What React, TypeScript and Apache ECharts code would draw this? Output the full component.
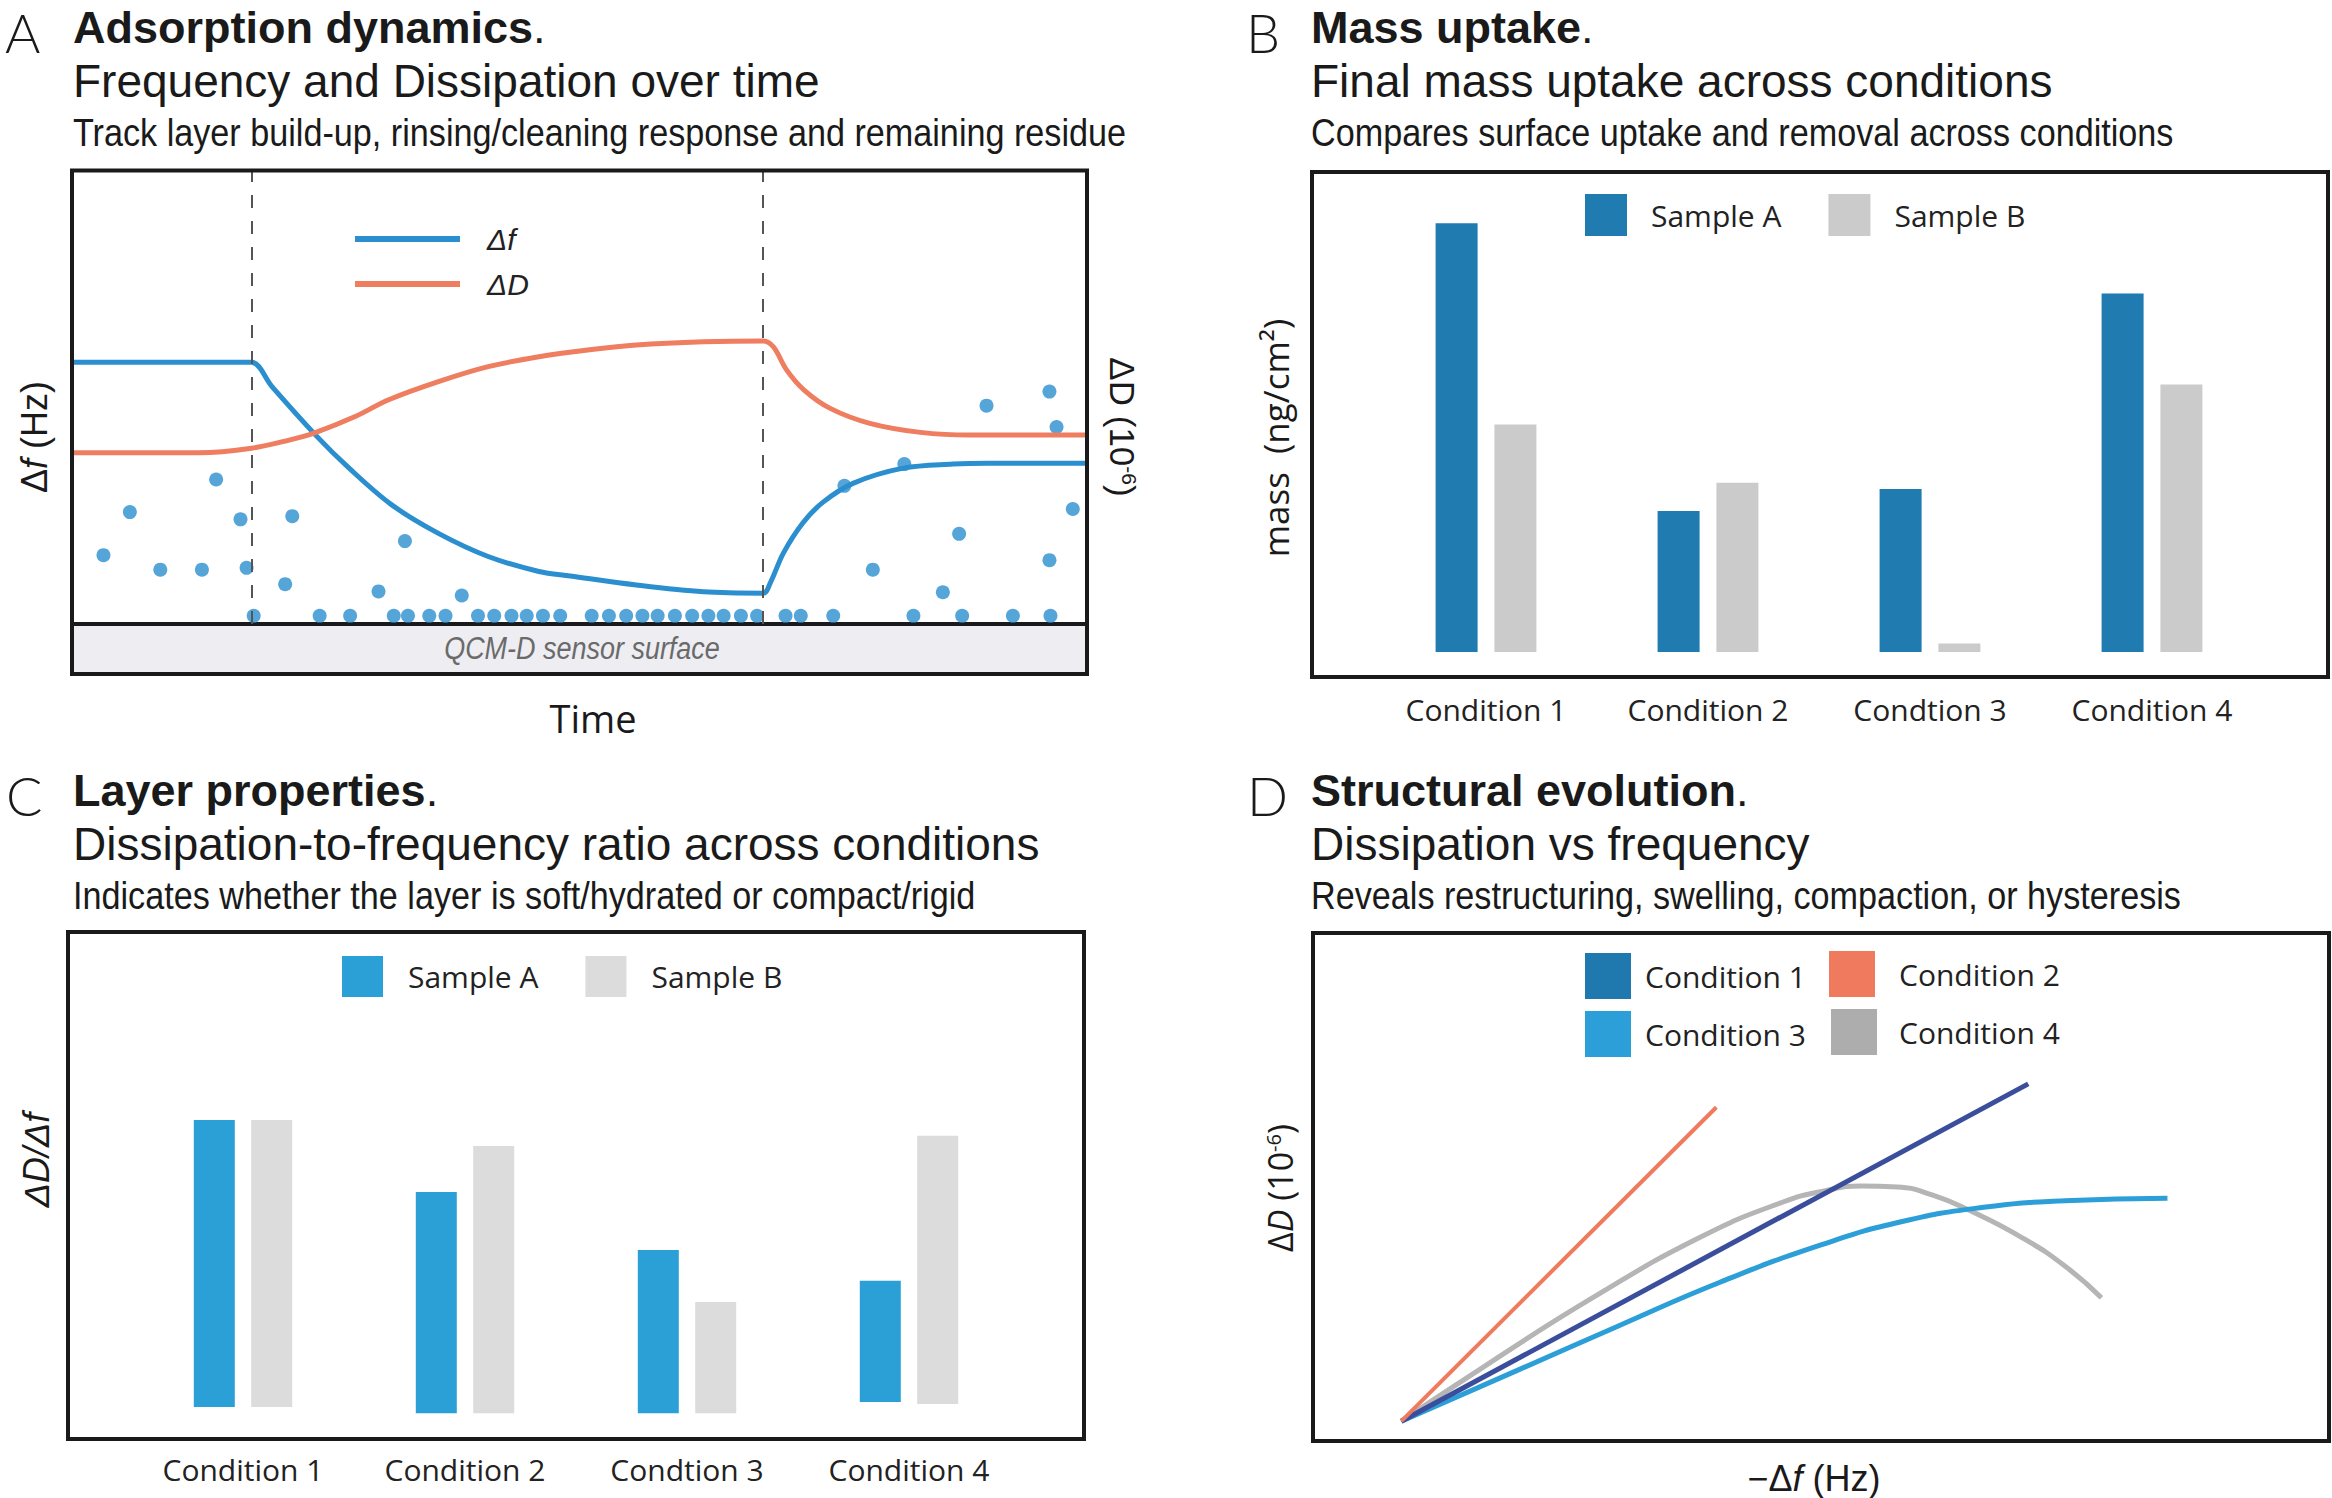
import { useEffect, useRef } from 'react';
import * as echarts from 'echarts';

const W = 2332;
const H = 1498;

// ---------- Panel A: QCM-D trace (time in % of run, signals in arbitrary units) ----------
const dfTrace: number[][] = [
  [0, 57.8], [16.2, 57.8], [17.7, 57.8], [19.7, 52.4], [24, 41.7], [27.3, 34.4], [31.5, 26.3], [36.1, 20],
  [41, 14.9], [46, 11.6], [49.1, 10.6], [55.6, 8.6], [62.2, 7.1], [68.1, 6.8], [68.8, 9.1],
  [70.1, 15.7], [72, 22.3], [74, 26.9], [77, 31.1], [81.9, 34.4], [86.8, 35.3], [90.2, 35.5], [100, 35.5],
];
const dDTrace: number[][] = [
  [0, 37.8], [12.5, 37.8], [17.7, 38.8], [21.4, 40.6], [23.9, 42.2], [27.9, 45.8], [31.2, 49.5],
  [36.1, 53.5], [41, 56.8], [46, 59], [51.2, 60.6], [55.6, 61.6], [62.2, 62.3], [68.1, 62.5],
  [69.1, 61.2], [70.4, 56.1], [72.1, 51.7], [74.7, 47.6], [78.6, 44.3], [83.6, 42.3], [88.5, 41.7], [100, 41.7],
];
const suspendedParticles: number[][] = [
  [3.1, 15.2], [5.7, 24.7], [8.7, 12.0], [12.8, 12.0], [14.2, 31.9], [16.6, 23.1], [17.2, 12.4],
  [21.7, 23.8], [21.0, 8.8], [32.8, 18.3], [30.2, 7.2], [38.4, 6.3], [76.1, 30.5], [82.0, 35.3],
  [78.9, 12.0], [87.4, 19.9], [85.8, 7.0], [90.1, 48.2], [96.3, 51.3], [97.0, 43.5], [98.6, 25.4], [96.3, 14.1],
];
const settledTimes: number[] = [
  17.9, 24.4, 27.4, 31.7, 33.1, 35.2, 36.8, 40.0, 41.6, 43.3, 44.8, 46.4, 48.1, 51.2, 52.9, 54.6,
  56.2, 57.7, 59.4, 61.1, 62.7, 64.2, 65.9, 67.5, 70.3, 71.8, 75.0, 82.9, 87.7, 92.7, 96.4,
];
const surfaceLevel = 1.8;
const injectionTime = 17.7;
const rinseTime = 68.1;

// ---------- Panels B and C: per-condition comparisons ----------
const conditions = ['Condition 1', 'Condition 2', 'Condtion 3', 'Condition 4'];
const massSampleA = [91.2, 30.0, 34.7, 76.3];
const massSampleB = [48.4, 36.0, 1.8, 56.9];
const ratioSampleA = [56.6, 43.6, 32.2, 23.9];
const ratioSampleB = [56.6, 52.7, 21.9, 52.9];
const ratioFloorA = [6.3, 5.1, 5.1, 7.3];
const ratioFloorB = [6.3, 5.1, 5.1, 6.9];

// ---------- Panel D: dissipation vs -frequency paths ----------
const pathCond1: number[][] = [[8.7, 3.9], [70.4, 70.3]];
const pathCond2: number[][] = [[8.7, 3.9], [39.7, 65.7]];
const pathCond3: number[][] = [
  [8.7, 3.9], [20, 13.8], [30, 22.6], [40, 31.2], [50, 38.6], [58, 43.2], [66, 46.0], [74, 47.3], [84.1, 47.8],
];
const pathCond4: number[][] = [
  [8.7, 3.9], [17.1, 15.0], [27.7, 28.4], [38.2, 40.2], [46.2, 47.0], [50.5, 49.3], [54, 50.2],
  [57.5, 50.0], [61, 48.4], [64.6, 45.4], [69.9, 39.9], [74.1, 34.3], [77.6, 28.2],
];

// ---------- styling ----------
const TXT = '#1a1a1a';
const SANS = '"Liberation Sans", Arial, sans-serif';
const HUMAN = '"Open Sans", "Noto Sans", sans-serif';
const BLUE_F = '#2b8fcf';
const ORANGE_D = '#ef7d5f';
const B_A = '#1f7bb0';
const B_B = '#cbcbcb';
const C_A = '#2ba0d6';
const C_B = '#dcdcdc';
const D1_KEY = '#1f78ae';
const D1_LINE = '#3b4e9c';
const D2 = '#f07a5e';
const D3 = '#2d9fd8';
const D4_KEY = '#adadad';
const D4_LINE = '#b5b5b5';

function titleBlock(letter: string, lx: number, tx: number, top: number, head: string, sub: string, note: string) {
  return [
    {
      type: 'text', x: lx, y: top + 32, z: 100,
      style: { text: letter, fontFamily: 'Lato, sans-serif', fontWeight: 300, fontSize: 54, fill: TXT, align: 'left', verticalAlign: 'middle' },
    },
    {
      type: 'text', x: tx, y: top + 27, z: 100,
      style: {
        text: `{b|${head}}{r|.}`,
        rich: {
          b: { fontFamily: SANS, fontWeight: 'bold', fontSize: 45, fill: TXT },
          r: { fontFamily: SANS, fontWeight: 'normal', fontSize: 45, fill: TXT },
        },
        align: 'left', verticalAlign: 'middle',
      },
    },
    {
      type: 'text', x: tx, y: top + 81, z: 100,
      style: { text: sub, fontFamily: SANS, fontSize: 46, fill: TXT, align: 'left', verticalAlign: 'middle' },
    },
    {
      type: 'text', x: tx, y: top + 133, scaleX: 0.9, z: 100,
      style: { text: note, fontFamily: SANS, fontSize: 38, fill: TXT, align: 'left', verticalAlign: 'middle' },
    },
  ];
}

function frame(x: number, y: number, w: number, h: number) {
  return {
    type: 'rect', z: 100, silent: true,
    shape: { x, y, width: w, height: h },
    style: { fill: 'none', stroke: TXT, lineWidth: 4 },
  };
}

// "ΔD (10-6)" with a raised exponent; italicD toggles the slanted D
function deltaDUnits(family: string, size: number, italicD: boolean) {
  return {
    text: italicD ? '{n|Δ}{i|D}{n| (10}{s|-6}{n|)}' : '{n|ΔD (10}{s|-6}{n|)}',
    rich: {
      n: { fontFamily: family, fontSize: size, fill: TXT, verticalAlign: 'bottom' },
      i: { fontFamily: family, fontSize: size, fontStyle: 'italic', fill: TXT, verticalAlign: 'bottom' },
      s: { fontFamily: family, fontSize: Math.round(size * 0.6), fill: TXT, verticalAlign: 'top' },
    },
    align: 'center', verticalAlign: 'middle',
  };
}

function buildOption() {
  const hiddenValue = (gridIndex: number) => ({
    gridIndex, type: 'value', min: 0, max: 100, show: false,
  });
  const catAxis = (gridIndex: number, margin: number) => ({
    gridIndex, type: 'category', data: conditions,
    axisLine: { show: false }, axisTick: { show: false }, splitLine: { show: false },
    axisLabel: { margin, fontFamily: HUMAN, fontSize: 30, color: '#222' },
  });
  const squareLegend = (left: number, top: number, size: number, gap: number, pad: number[], data: any[]) => ({
    left, top, padding: 0, icon: 'rect', itemWidth: size, itemHeight: size, itemGap: gap,
    selectedMode: false, itemStyle: { borderWidth: 0 },
    textStyle: { fontFamily: HUMAN, fontSize: 30, color: '#222', padding: pad },
    data,
  });
  const lineLegend = (top: number, name: string, color: string) => ({
    left: 355, top, padding: 0, icon: 'rect', itemWidth: 105, itemHeight: 6,
    selectedMode: false, itemStyle: { borderWidth: 0 },
    textStyle: { fontFamily: SANS, fontStyle: 'italic', fontSize: 30, color: '#222', padding: [0, 0, 0, 22] },
    data: [{ name, itemStyle: { color } }],
  });

  return {
    animation: false,
    backgroundColor: '#ffffff',
    grid: [
      { left: 72, top: 171, width: 1015, height: 453 },
      { left: 1375, top: 182, width: 888, height: 470 },
      { left: 132, top: 932, width: 888, height: 507 },
      { left: 1313, top: 933, width: 1016, height: 508 },
    ],
    xAxis: [
      {
        gridIndex: 0, type: 'value', min: 0, max: 100,
        axisLine: { show: true, onZero: false, lineStyle: { color: TXT, width: 4 } },
        axisTick: { show: false }, axisLabel: { show: false }, splitLine: { show: false },
      },
      catAxis(1, 42),
      catAxis(2, 15),
      hiddenValue(3),
    ],
    yAxis: [
      hiddenValue(0),
      { ...hiddenValue(0), position: 'right' },
      hiddenValue(1),
      hiddenValue(2),
      hiddenValue(3),
    ],
    legend: [
      lineLegend(224, 'Δf', BLUE_F),
      lineLegend(269, 'ΔD', ORANGE_D),
      squareLegend(1585, 194, 42, 47, [10, 0, 0, 19], [
        { name: 'Sample A', itemStyle: { color: B_A } },
        { name: 'Sample B', itemStyle: { color: B_B } },
      ]),
      squareLegend(342, 956, 41, 47, [2, 0, 0, 20], [
        { name: 'Sample A', itemStyle: { color: C_A } },
        { name: 'Sample B', itemStyle: { color: C_B } },
      ]),
      squareLegend(1585, 953, 46, 0, [4, 0, 0, 9], [{ name: 'Condition 1', itemStyle: { color: D1_KEY } }]),
      squareLegend(1829, 951, 46, 0, [4, 0, 0, 19], [{ name: 'Condition 2', itemStyle: { color: D2 } }]),
      squareLegend(1585, 1011, 46, 0, [4, 0, 0, 9], [{ name: 'Condition 3', itemStyle: { color: D3 } }]),
      squareLegend(1831, 1009, 46, 0, [4, 0, 0, 17], [{ name: 'Condition 4', itemStyle: { color: D4_KEY } }]),
    ],
    series: [
      // Panel A
      {
        name: 'particles', type: 'scatter', xAxisIndex: 0, yAxisIndex: 0, z: 2,
        symbolSize: 14, itemStyle: { color: '#2a8fd0' },
        data: [...suspendedParticles, ...settledTimes.map((t) => [t, surfaceLevel])],
      },
      {
        name: 'Δf', type: 'line', xAxisIndex: 0, yAxisIndex: 0, z: 3,
        data: dfTrace, showSymbol: false, smooth: 0.35,
        lineStyle: { color: BLUE_F, width: 5 }, itemStyle: { color: BLUE_F },
        markLine: {
          silent: true, symbol: ['none', 'none'], label: { show: false },
          lineStyle: { type: [13, 13], color: '#555', width: 2 },
          data: [{ xAxis: injectionTime }, { xAxis: rinseTime }],
        },
      },
      {
        name: 'ΔD', type: 'line', xAxisIndex: 0, yAxisIndex: 1, z: 3,
        data: dDTrace, showSymbol: false, smooth: 0.35,
        lineStyle: { color: ORANGE_D, width: 5 }, itemStyle: { color: ORANGE_D },
      },
      // Panel B
      {
        name: 'Sample A', type: 'bar', xAxisIndex: 1, yAxisIndex: 2,
        barWidth: 42, barGap: '40%', itemStyle: { color: B_A }, data: massSampleA,
      },
      {
        name: 'Sample B', type: 'bar', xAxisIndex: 1, yAxisIndex: 2,
        barWidth: 42, barGap: '40%', itemStyle: { color: B_B }, data: massSampleB,
      },
      // Panel C (bars rest on a small per-condition floor)
      {
        name: 'floorA', type: 'bar', stack: 'ca', xAxisIndex: 2, yAxisIndex: 3, silent: true,
        barWidth: 41, barGap: '40%', itemStyle: { color: 'rgba(0,0,0,0)' }, data: ratioFloorA,
      },
      {
        name: 'Sample A', type: 'bar', stack: 'ca', xAxisIndex: 2, yAxisIndex: 3,
        barWidth: 41, barGap: '40%', itemStyle: { color: C_A }, data: ratioSampleA,
      },
      {
        name: 'floorB', type: 'bar', stack: 'cb', xAxisIndex: 2, yAxisIndex: 3, silent: true,
        barWidth: 41, barGap: '40%', itemStyle: { color: 'rgba(0,0,0,0)' }, data: ratioFloorB,
      },
      {
        name: 'Sample B', type: 'bar', stack: 'cb', xAxisIndex: 2, yAxisIndex: 3,
        barWidth: 41, barGap: '40%', itemStyle: { color: C_B }, data: ratioSampleB,
      },
      // Panel D
      {
        name: 'Condition 4', type: 'line', xAxisIndex: 3, yAxisIndex: 4, data: pathCond4,
        showSymbol: false, smooth: 0.5, lineStyle: { color: D4_LINE, width: 5 }, itemStyle: { color: D4_KEY },
      },
      {
        name: 'Condition 3', type: 'line', xAxisIndex: 3, yAxisIndex: 4, data: pathCond3,
        showSymbol: false, smooth: 0.5, lineStyle: { color: D3, width: 5 }, itemStyle: { color: D3 },
      },
      {
        name: 'Condition 1', type: 'line', xAxisIndex: 3, yAxisIndex: 4, data: pathCond1,
        showSymbol: false, lineStyle: { color: D1_LINE, width: 5 }, itemStyle: { color: D1_KEY },
      },
      {
        name: 'Condition 2', type: 'line', xAxisIndex: 3, yAxisIndex: 4, data: pathCond2,
        showSymbol: false, lineStyle: { color: D2, width: 4 }, itemStyle: { color: D2 },
      },
    ],
    graphic: {
      elements: [
        ...titleBlock('A', 5, 73, 0, 'Adsorption dynamics', 'Frequency and Dissipation over time',
          'Track layer build-up, rinsing/cleaning response and remaining residue'),
        ...titleBlock('B', 1246, 1311, 0, 'Mass uptake', 'Final mass uptake across conditions',
          'Compares surface uptake and removal across conditions'),
        ...titleBlock('C', 6, 73, 763, 'Layer properties', 'Dissipation-to-frequency ratio across conditions',
          'Indicates whether the layer is soft/hydrated or compact/rigid'),
        ...titleBlock('D', 1247, 1311, 763, 'Structural evolution', 'Dissipation vs frequency',
          'Reveals restructuring, swelling, compaction, or hysteresis'),

        // Panel A: sensor band, frame and axis titles
        {
          type: 'rect', z: 1, silent: true,
          shape: { x: 72, y: 626, width: 1015, height: 48 },
          style: { fill: '#ededf2' },
        },
        {
          type: 'text', x: 582, y: 648, scaleX: 0.87, z: 100,
          style: {
            text: 'QCM-D sensor surface', fontFamily: SANS, fontStyle: 'italic', fontSize: 31,
            fill: '#6a6a6a', align: 'center', verticalAlign: 'middle',
          },
        },
        frame(72, 170.5, 1015, 503.5),
        {
          type: 'text', x: 34, y: 437, rotation: Math.PI / 2, z: 100,
          style: {
            text: '{n|Δ}{i|f}{n| (Hz)}',
            rich: {
              n: { fontFamily: SANS, fontSize: 36, fill: TXT },
              i: { fontFamily: SANS, fontSize: 36, fontStyle: 'italic', fill: TXT },
            },
            align: 'center', verticalAlign: 'middle',
          },
        },
        {
          type: 'text', x: 1122, y: 427, rotation: -Math.PI / 2, z: 100,
          style: deltaDUnits(SANS, 35, false),
        },
        {
          type: 'text', x: 593, y: 718, z: 100,
          style: { text: 'Time', fontFamily: HUMAN, fontSize: 38, fill: TXT, align: 'center', verticalAlign: 'middle' },
        },

        // Panel B
        frame(1312, 172, 1016, 505),
        {
          type: 'text', x: 1275, y: 438, rotation: Math.PI / 2, z: 100,
          style: {
            text: 'mass\u00a0\u00a0(ng/cm²)', fontFamily: HUMAN, fontSize: 35, fill: TXT,
            align: 'center', verticalAlign: 'middle',
          },
        },

        // Panel C
        frame(68, 932, 1016, 507),
        {
          type: 'text', x: 36, y: 1160, rotation: Math.PI / 2, z: 100,
          style: {
            text: 'ΔD/Δf', fontFamily: SANS, fontStyle: 'italic', fontSize: 36, fill: TXT,
            align: 'center', verticalAlign: 'middle',
          },
        },

        // Panel D
        frame(1313, 933, 1016, 508),
        {
          type: 'text', x: 1280, y: 1188, rotation: Math.PI / 2, z: 100,
          style: deltaDUnits(HUMAN, 34, true),
        },
        {
          type: 'text', x: 1814, y: 1478, z: 100,
          style: {
            text: '{n|−Δ}{i|f}{n| (Hz)}',
            rich: {
              n: { fontFamily: SANS, fontSize: 36, fill: TXT },
              i: { fontFamily: SANS, fontSize: 36, fontStyle: 'italic', fill: TXT },
            },
            align: 'center', verticalAlign: 'middle',
          },
        },
      ],
    },
  };
}

export default function App() {
  const ref = useRef<HTMLDivElement>(null);
  useEffect(() => {
    document.body.style.margin = '0';
    const chart = echarts.init(ref.current as HTMLDivElement, null, { renderer: 'svg', width: W, height: H });
    chart.setOption(buildOption() as any);
    return () => {
      chart.dispose();
    };
  }, []);
  return <div ref={ref} style={{ width: W, height: H, background: '#fff' }} />;
}
